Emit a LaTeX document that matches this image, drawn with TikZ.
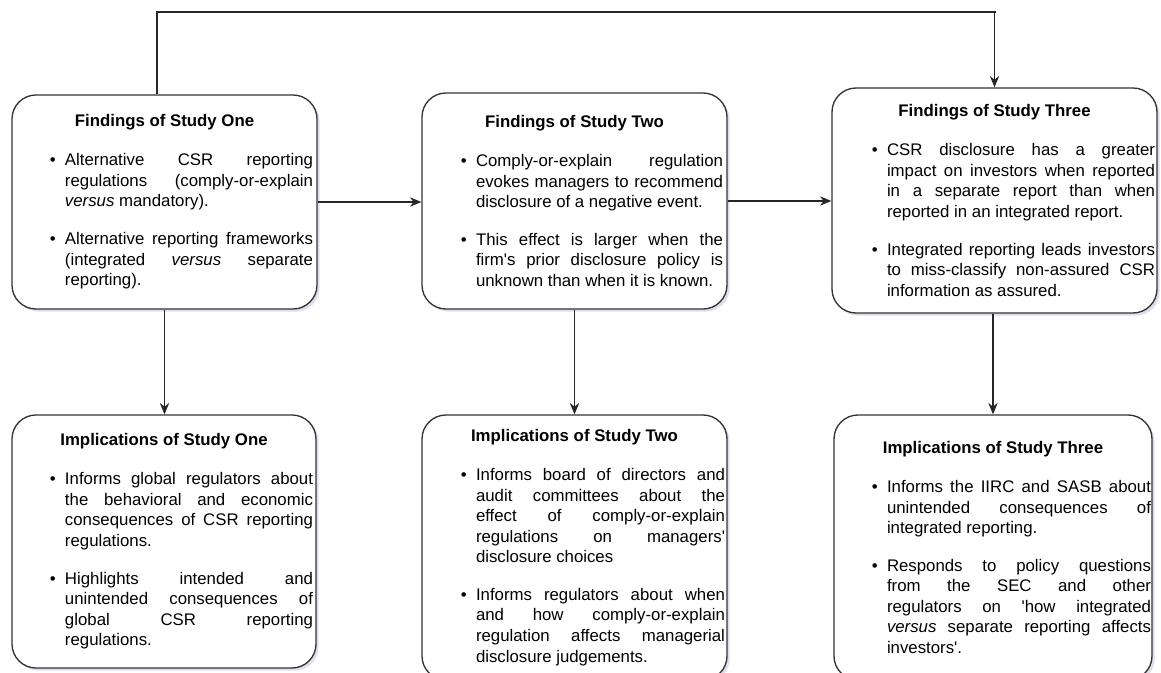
\documentclass[tikz,border=0pt]{standalone}
\usepackage{fontspec}
\setmainfont{Liberation Sans}
\usetikzlibrary{arrows.meta,shadows}

\newenvironment{boxitems}[2]{%
  \begin{list}{\textbullet}{%
    \setlength\leftmargin{#1}\setlength\rightmargin{#2}%
    \setlength\labelsep{7pt}\setlength\labelwidth{5pt}%
    \setlength\itemsep{12.9pt}\setlength\parsep{0pt}%
    \setlength\topsep{0pt}\setlength\partopsep{0pt}}}%
  {\end{list}}

\hyphenpenalty=10000
\exhyphenpenalty=10000
\tolerance=9999
\hbadness=10000
\hfuzz=4pt

\begin{document}
\begin{tikzpicture}[x=0.75pt,y=-0.75pt,
  box/.style={draw=black!80,line width=1pt,rounded corners=18pt,fill=white,
    drop shadow={shadow xshift=2pt,shadow yshift=-2pt,fill=blue!30!gray!40,opacity=0.5},
    inner sep=0pt,align=justify,font=\fontsize{12.6}{15.4}\selectfont},
  flow/.style={-{Stealth[length=8.5pt,width=7pt]},line width=0.9pt,black!85}]
\useasboundingbox (0,0) rectangle (1161,673);

\node[box,text width=228.75pt,minimum height=160.5pt] (find1) at (164.5,202) {%
{\centering\bfseries Findings of Study One\par}\vspace{13.8pt}
\begin{boxitems}{39.75pt}{3pt}
\item Alternative CSR reporting\linebreak regulations (comply-or-explain\linebreak \textit{versus} mandatory).
\item Alternative reporting frameworks\linebreak (integrated \textit{versus} separate\linebreak reporting).
\end{boxitems}};

\node[box,text width=228.75pt,minimum height=162pt] (find2) at (574.5,201) {%
{\centering\bfseries Findings of Study Two\par}\vspace{13.8pt}
\begin{boxitems}{40.5pt}{3pt}
\item Comply-or-explain regulation\linebreak evokes managers to recommend\linebreak disclosure of a negative event.
\item This effect is larger when the\linebreak firm\textquotesingle s prior disclosure policy is\linebreak unknown than when it is known.
\end{boxitems}};

\node[box,text width=243.75pt,minimum height=168.75pt] (find3) at (994.5,200.5) {%
{\centering\bfseries Findings of Study Three\par}\vspace{13.8pt}
\begin{boxitems}{41.25pt}{1.5pt}
\item CSR disclosure has a greater\linebreak impact on investors when reported\linebreak in a separate report than when\linebreak reported in an integrated report.
\item Integrated reporting leads investors\linebreak to miss-classify non-assured CSR\linebreak information as assured.
\end{boxitems}};

\node[box,text width=228pt,minimum height=189.75pt] (impl1) at (164,541.5) {%
{\centering\bfseries Implications of Study One\par}\vspace{13.8pt}
\begin{boxitems}{39.75pt}{2.25pt}
\item Informs global regulators about\linebreak the behavioral and economic\linebreak consequences of CSR reporting\linebreak regulations.
\item Highlights intended and\linebreak unintended consequences of\linebreak global CSR reporting\linebreak regulations.
\end{boxitems}};

\node[box,text width=228.75pt,minimum height=198.75pt] (impl2) at (574.5,547.5) {%
{\centering\bfseries Implications of Study Two\par}\vspace{13.8pt}
\begin{boxitems}{40.5pt}{1.5pt}
\item Informs board of directors and\linebreak audit committees about the\linebreak effect of comply-or-explain\linebreak regulations on managers\textquotesingle\linebreak disclosure choices
\item Informs regulators about when\linebreak and how comply-or-explain\linebreak regulation affects managerial\linebreak disclosure judgements.
\end{boxitems}};

\node[box,text width=238.5pt,minimum height=198.75pt] (impl3) at (993,547.5) {%
{\centering\bfseries Implications of Study Three\par}\vspace{13.8pt}
\begin{boxitems}{39.75pt}{0.75pt}
\item Informs the IIRC and SASB about\linebreak unintended consequences of\linebreak integrated reporting.
\item Responds to policy questions\linebreak from the SEC and other\linebreak regulators on \textquotesingle how integrated\linebreak \textit{versus} separate reporting affects\linebreak investors\textquotesingle .
\end{boxitems}};

\coordinate (top) at (996,12);
\draw[flow] ([xshift=-5.6pt]find1.north) |- (top) -| (find3.north);
\draw[flow] (find1.east) -- (find1.east -| find2.west);
\draw[flow] (find2.east) -- (find2.east -| find3.west);
\draw[flow] (find1.south) -- (find1.south |- impl1.north);
\draw[flow] (find2.south) -- (impl2.north);
\draw[flow] (impl3.north |- find3.south) -- (impl3.north);

\end{tikzpicture}
\end{document}
